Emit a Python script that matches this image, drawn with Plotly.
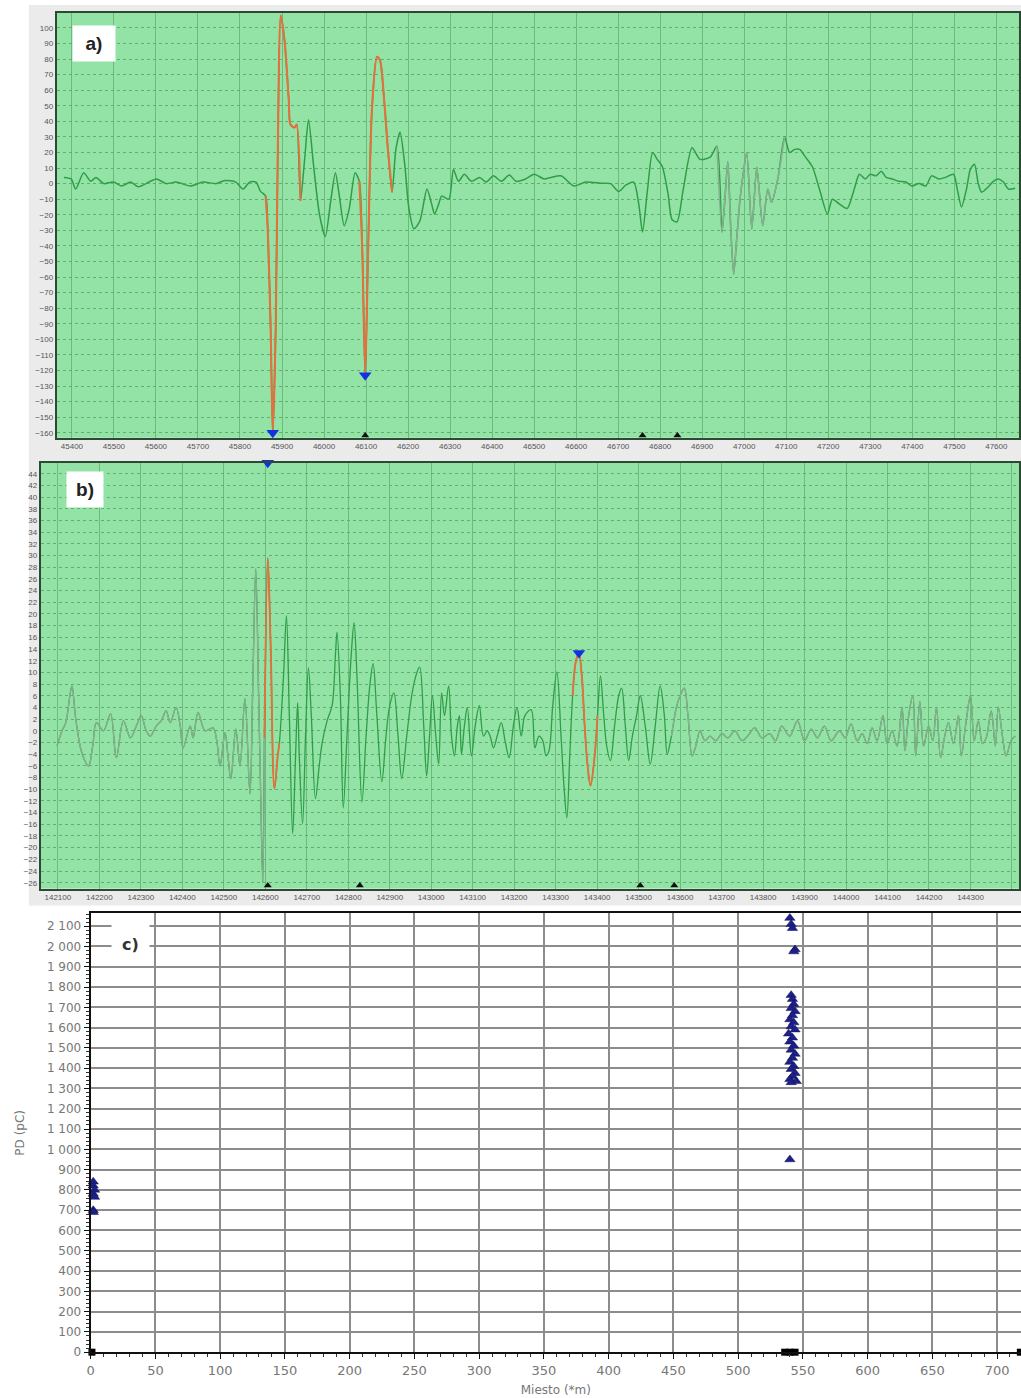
import plotly.graph_objects as go

W, H = 1021, 1398

# ---------------- Panel a) data ----------------
a_x = [45381, 45398, 45409, 45428, 45445, 45457, 45476, 45499, 45518, 45540,
       45558, 45587, 45601, 45625, 45648, 45682, 45712, 45743, 45764, 45790,
       45807, 45823, 45838, 45849, 45861, 45866, 45873, 45878, 45885, 45890,
       45897, 45906, 45916, 45920, 45930, 45935, 45944, 45954, 45963, 45975,
       45989, 46003, 46015, 46027, 46036, 46048, 46060, 46074, 46084, 46091,
       46098, 46105, 46114, 46126, 46133, 46143, 46152, 46162, 46171, 46181,
       46192, 46202, 46214, 46228, 46245, 46256, 46263, 46273, 46280, 46297,
       46308, 46320, 46334, 46351, 46370, 46386, 46403, 46422, 46441, 46457,
       46480, 46500, 46524, 46540, 46564, 46595, 46623, 46659, 46682, 46701,
       46718, 46737, 46749, 46758, 46770, 46782, 46793, 46805, 46819, 46828,
       46840, 46855, 46876, 46895, 46919, 46935, 46947, 46954, 46961, 46968,
       46975, 46982, 46990, 46999, 47006, 47018, 47030, 47044, 47056, 47065,
       47080, 47096, 47108, 47120, 47132, 47146, 47162, 47179, 47198, 47210,
       47226, 47245, 47262, 47274, 47288, 47300, 47314, 47326, 47338, 47352,
       47368, 47385, 47399, 47416, 47432, 47446, 47463, 47479, 47498, 47507,
       47517, 47529, 47538, 47548, 47557, 47565, 47581, 47593, 47605, 47617,
       47629, 47645]
a_y = [4, 3, -3.5, 7, 1.5, 4, 0, 1, -1.5, 1,
       -2, 1.5, 3, 0, 1, -1.5, 1, 0, 2, 1,
       -3.5, 1, 1, -5, -8, -29, -93, -161, -93, 22,
       108, 92, 54, 38, 36, 38, -11, 16, 41, 12,
       -19.5, -34, -13, 7, -7, -27, -16, 7, 1.5, -42,
       -123, -42, 47.6, 81.5, 79.5, 54, 22, -5.5, 22, 33,
       12.5, -16, -29, -24, -3.5, -13, -19.5, -13, -8, -10,
       9, 1.5, 6, 1.5, 4, 1, 5, 1.5, 5.5, 1.5,
       3, 6, 3, 4, 5, -1.5, 1, 0.3, 0, -5,
       -1, 1, -13, -31, -3.5, 20, 15.6, 11, -7, -23,
       -24.6, -3.5, 23, 15.6, 17, 24, -31, -10, 14, -29,
       -58, -36, -10, 9, 20, -29, 10.5, -27, -3.5, -12,
       3, 30, 20, 22, 22, 17, 11, -3.5, -19.5, -10,
       -13, -16, -3.5, 6, 3, 6, 5, 8, 4, 3,
       1.5, 1, -1.5, 0, -1.5, 5, 3, 4, 6, -3.5,
       -15, -3.5, 9, 12.5, 0, -5.5, -2, 1.5, 3, 1,
       -3.5, -3]
a_red_ranges = [(45861, 45944), (46084, 46162)]
a_faded_ranges = [(46935, 47096)]
a_blue_x = [45878, 46098]
a_blue_y = [-160, -123]
a_black_x = [46098, 46758, 46841]

# ---------------- Panel b) data ----------------
b_x = [142098, 142110, 142119, 142129, 142134, 142143, 142158, 142174, 142184, 142193,
       142210, 142227, 142241, 142258, 142275, 142289, 142301, 142313, 142323, 142337,
       142349, 142361, 142371, 142385, 142395, 142402, 142419, 142426, 142438, 142455,
       142474, 142483, 142491, 142503, 142510, 142517, 142529, 142539, 142551, 142563,
       142570, 142577, 142584, 142589, 142594, 142598,
       142606, 142613, 142622, 142630, 142634,
       142644, 142651, 142658, 142666, 142673, 142678, 142682, 142690, 142697, 142704,
       142711, 142721, 142730, 142737, 142749, 142761, 142769, 142773, 142781, 142788,
       142797, 142807, 142814, 142821, 142833, 142843, 142852, 142860, 142869, 142881,
       142891, 142900, 142910, 142920, 142929, 142941, 142953, 142963, 142972, 142982,
       142989, 142996, 143003, 143011, 143018, 143025, 143032, 143042, 143049, 143056,
       143063, 143068, 143073, 143080, 143087, 143097, 143106, 143116, 143126, 143135,
       143142, 143150, 143159, 143169, 143178, 143188, 143198, 143207, 143217, 143226,
       143241, 143250, 143260, 143269, 143277, 143284, 143293, 143303, 143313, 143320,
       143327, 143334, 143341,
       143349, 143356, 143363, 143370, 143377, 143384, 143394, 143401,
       143408, 143416, 143423, 143432, 143442, 143452, 143459, 143468, 143476, 143485,
       143495, 143504, 143516, 143528, 143540, 143552, 143562, 143569, 143579,
       143591, 143600, 143610, 143619, 143629, 143638, 143648, 143660, 143672, 143686,
       143701, 143715, 143732, 143749, 143763, 143780, 143797, 143816, 143830, 143845,
       143864, 143883, 143900, 143916, 143931, 143948, 143964, 143984, 143998, 144012,
       144027, 144039, 144051, 144063, 144075, 144089, 144099, 144111, 144123, 144135,
       144142, 144151, 144161, 144168, 144178, 144187, 144199, 144209, 144218, 144228,
       144238, 144247, 144259, 144271, 144278, 144288, 144300, 144309, 144319, 144329,
       144338, 144350, 144360, 144367, 144377, 144386, 144398, 144408]
b_y = [-2.6, 0.0, 1.4, 6.0, 7.7, 2.1, -3.8, -6.0, -2.6, 1.4,
       0.0, 2.9, -4.6, 1.7, -1.2, 0.8, 2.6, 0.0, -0.9, 0.8,
       1.7, 3.4, 1.4, 4.0, 0.8, -2.9, 0.8, -1.2, 3.1, 0.0,
       0.5, -1.7, -6.0, -0.3, -4.3, -8.2, 0.3, -6.0, 5.5, -10.8,
       8.2, 27.7, 6.0, -11.1, -26.0, -1.2,
       29.6, 14.5, -9.9, -4.3, -2.1,
       9.4, 19.7, 2.6, -17.6, -4.3, 4.8, -4.3, -15.9, -0.9, 10.8,
       2.6, -11.6, -6.0, -2.1, 1.7, 4.3, 12.8, 16.9, 6.0, -13.2,
       -0.9, 12.8, 18.5, 9.4, -12.2, -0.9, 7.7, 11.5, 2.6, -8.7,
       -0.9, 4.3, 6.5, -0.9, -8.2, -0.9, 6.0, 9.4, 10.9, 0.8,
       -7.7, -0.9, 6.0, -0.9, -5.7, 6.5, 2.6, 7.7, -0.9, -4.3,
       0.8, 2.6, -4.0, 0.8, 4.0, -4.3, 0.8, 4.3, -0.9, 0.0,
       -0.9, -2.9, -0.9, 1.4, -1.7, -4.6, 0.8, 4.0, -0.9, 2.6,
       3.6, -2.9, -0.9, -1.7, -4.3, -3.4, 4.3, 10.1, -0.9, -9.4,
       -14.9, -4.3, 6.0,
       12.0, 13.2, 9.4, 0.8, -6.0, -9.4, -4.3, 2.6,
       9.4, 2.6, -2.6, -5.1, 0.8, 6.0, 7.3, 0.8, -5.1, -0.9,
       2.6, 6.0, 0.8, -5.7, 0.8, 7.7, 2.6, -4.0, -0.9,
       4.0, 6.0, 7.3, 2.6, -4.3, -2.6, 0.0, -1.7, -0.9, -1.7,
       -0.5, -1.2, 0.0, -1.7, -0.9, 0.5, -1.2, -0.5, -1.7, 0.8,
       -0.9, 1.7, -1.7, 0.3, -1.2, 0.8, -1.7, 0.0, -1.2, 1.2,
       -1.7, -0.5, -2.2, 0.5, -1.7, 2.6, -2.2, 0.0, -2.6, 4.0,
       -3.4, 2.6, 6.0, -4.3, 5.0, -2.6, 0.8, -1.7, 4.0, -4.6,
       -0.9, 1.4, -2.2, 2.6, -4.3, 0.8, 6.0, -1.7, 1.7, -2.2,
       -1.2, 3.4, -2.6, 4.0, -0.9, -4.3, -1.7, -0.9]
b_red_ranges = [(142598, 142634), (143341, 143401)]
b_faded_ranges = [(142098, 142598), (143579, 144408)]
b_blue_x = [142606, 143356]
b_blue_y = [45.9, 13.3]
b_black_x = [142606, 142828, 143504, 143586]

# ---------------- Panel c) data ----------------
c_x = [540, 541, 542, 544, 543, 541, 542, 543, 541, 544,
       542, 540, 543, 541, 544, 539, 542, 540, 543, 541,
       544, 542, 540, 543, 541, 544, 542, 540, 545, 541,
       540, 2, 2, 3, 2, 3, 2, 2]
c_y = [2140, 2110, 2090, 1985, 1975, 1760, 1740, 1715, 1695, 1680,
       1660, 1640, 1625, 1605, 1590, 1570, 1550, 1530, 1510, 1490,
       1470, 1450, 1430, 1410, 1395, 1375, 1360, 1345, 1335, 1330,
       950, 840, 820, 800, 780, 765, 700, 690]
c_sq_x = [1, 536, 540, 544, 718]
c_sq_y = [0, 0, 0, 0, 0]

# ranges
A_XR = [45364, 47654]; A_YR = [-163.2, 109.6]
B_XR = [142059, 144417]; B_YR = [-27.0, 45.9]
C_XR = [0, 718.5]; C_YR = [0, 2163]

GREEN = '#2f9e46'
FADED = '#8cae93'
RED = '#e3703f'
BLUE = '#1530e0'


def pick(xs, ys, lo, hi):
    sx, sy = [], []
    for x, y in zip(xs, ys):
        if lo <= x <= hi:
            sx.append(x); sy.append(y)
    return sx, sy


fig = go.Figure()


def add_signal(xs, ys, red_ranges, faded_ranges, xa, ya, width, sm):
    fig.add_trace(go.Scatter(x=xs, y=ys, mode='lines', xaxis=xa, yaxis=ya,
                             line=dict(color=GREEN, width=width, shape='spline', smoothing=sm),
                             showlegend=False, hoverinfo='skip'))
    for lo, hi in faded_ranges:
        sx, sy = pick(xs, ys, lo, hi)
        fig.add_trace(go.Scatter(x=sx, y=sy, mode='lines', xaxis=xa, yaxis=ya,
                                 line=dict(color=FADED, width=width, shape='spline', smoothing=sm),
                                 showlegend=False, hoverinfo='skip'))
    for lo, hi in red_ranges:
        sx, sy = pick(xs, ys, lo, hi)
        fig.add_trace(go.Scatter(x=sx, y=sy, mode='lines', xaxis=xa, yaxis=ya,
                                 line=dict(color=RED, width=width + 0.6, shape='spline', smoothing=sm),
                                 showlegend=False, hoverinfo='skip'))


add_signal(a_x, a_y, a_red_ranges, a_faded_ranges, 'x', 'y', 1.5, 0.7)
add_signal(b_x, b_y, b_red_ranges, b_faded_ranges, 'x2', 'y2', 1.3, 1.0)

# markers panel a
fig.add_trace(go.Scatter(x=a_blue_x, y=a_blue_y, mode='markers', xaxis='x', yaxis='y',
                         marker=dict(symbol='triangle-down', size=11, color=BLUE),
                         cliponaxis=False, showlegend=False))
fig.add_trace(go.Scatter(x=a_black_x, y=[A_YR[0] + 1.5] * len(a_black_x), mode='markers',
                         xaxis='x', yaxis='y',
                         marker=dict(symbol='triangle-up', size=7, color='#111'),
                         cliponaxis=False, showlegend=False))
# markers panel b
fig.add_trace(go.Scatter(x=b_blue_x, y=b_blue_y, mode='markers', xaxis='x2', yaxis='y2',
                         marker=dict(symbol='triangle-down', size=11, color=BLUE),
                         cliponaxis=False, showlegend=False))
fig.add_trace(go.Scatter(x=b_black_x, y=[B_YR[0] + 0.5] * len(b_black_x), mode='markers',
                         xaxis='x2', yaxis='y2',
                         marker=dict(symbol='triangle-up', size=7, color='#111'),
                         cliponaxis=False, showlegend=False))
# panel c
fig.add_trace(go.Scatter(x=c_x, y=c_y, mode='markers', xaxis='x3', yaxis='y3',
                         marker=dict(symbol='triangle-up', size=9, color='#1d1f8a',
                                     line=dict(width=0.5, color='#10124f')),
                         cliponaxis=False, showlegend=False))
fig.add_trace(go.Scatter(x=c_sq_x, y=c_sq_y, mode='markers', xaxis='x3', yaxis='y3',
                         marker=dict(symbol='square', size=7, color='#000'),
                         cliponaxis=False, showlegend=False))

A_DX = [53 / W, 1019 / W]; A_DY = [1 - 440 / H, 1 - 13 / H]
B_DX = [37 / W, 1019 / W]; B_DY = [1 - 893 / H, 1 - 465 / H]
C_DX = [87 / W, 1.0]; C_DY = [1 - 1359 / H, 1 - 918 / H]

small_font = dict(family='Liberation Sans, Arial, sans-serif', size=8, color='#555')
gcol = '#5fb06f'

common_line = dict(zeroline=False, showline=True, linecolor='#2c4a33', linewidth=2,
                   mirror=True, ticks='', tickfont=small_font, tickformat='d')
x_green = dict(showgrid=True, gridcolor='#6dbb7c', gridwidth=1, **common_line)
y_green = dict(showgrid=True, gridcolor=gcol, gridwidth=1, griddash='dot', **common_line)

c_font = dict(family='DejaVu Sans, sans-serif', size=12, color='#777')

fig.update_layout(
    width=W, height=H, autosize=False,
    margin=dict(l=0, r=0, t=0, b=0),
    paper_bgcolor='white', plot_bgcolor='rgba(0,0,0,0)',
    separators=', ',
    xaxis=dict(domain=A_DX, anchor='y', range=A_XR, tick0=45400, dtick=100, **x_green),
    yaxis=dict(domain=A_DY, anchor='x', range=A_YR, tick0=0, dtick=10, **y_green),
    xaxis2=dict(domain=B_DX, anchor='y2', range=B_XR, tick0=142100, dtick=100, **x_green),
    yaxis2=dict(domain=B_DY, anchor='x2', range=B_YR, tick0=0, dtick=2, **y_green),
    xaxis3=dict(domain=C_DX, anchor='y3', range=C_XR, tick0=0, dtick=50,
                showgrid=True, gridcolor='#8c8c8c', gridwidth=2, zeroline=False,
                showline=True, linecolor='#111', linewidth=2, mirror=True,
                ticks='outside', ticklen=5, tickcolor='#111', tickfont=dict(c_font, size=13),
                minor=dict(dtick=10, ticks='outside', ticklen=3, tickcolor='#333', showgrid=False),
                title=dict(text='Miesto (*m)', font=dict(c_font, size=12), standoff=9)),
    yaxis3=dict(domain=C_DY, anchor='x3', range=C_YR, tick0=0, dtick=100, tickformat=',d',
                showgrid=True, gridcolor='#8c8c8c', gridwidth=2, zeroline=False,
                showline=True, linecolor='#111', linewidth=2,
                ticks='outside', ticklen=5, tickcolor='#111', tickfont=c_font,
                minor=dict(dtick=20, ticks='outside', ticklen=3, tickcolor='#333', showgrid=False),
                title=dict(text='PD (pC)', font=dict(c_font, size=12), standoff=20)),
    shapes=[
        dict(type='rect', xref='paper', yref='paper', x0=25 / W, x1=1, y0=1 - 910 / H, y1=1 - 5 / H,
             fillcolor='#ebebeb', line=dict(width=0), layer='below'),
        dict(type='rect', xref='paper', yref='paper', x0=A_DX[0], x1=A_DX[1], y0=A_DY[0], y1=A_DY[1],
             fillcolor='#93e3a6', line=dict(width=0), layer='below'),
        dict(type='rect', xref='paper', yref='paper', x0=B_DX[0], x1=B_DX[1], y0=B_DY[0], y1=B_DY[1],
             fillcolor='#93e3a6', line=dict(width=0), layer='below'),
    ],
    annotations=[
        dict(text='<b>a)</b>', xref='paper', yref='paper', x=68 / W, y=1 - 25 / H,
             xanchor='left', yanchor='top', showarrow=False, bgcolor='white', width=40, height=33,
             font=dict(family='Liberation Sans, Arial, sans-serif', size=19, color='#222')),
        dict(text='<b>b)</b>', xref='paper', yref='paper', x=62 / W, y=1 - 473 / H,
             xanchor='left', yanchor='top', showarrow=False, bgcolor='white', width=34, height=33,
             font=dict(family='Liberation Sans, Arial, sans-serif', size=19, color='#222')),
        dict(text='<b>c)</b>', xref='paper', yref='paper', x=107 / W, y=1 - 928 / H,
             xanchor='left', yanchor='top', showarrow=False, bgcolor='white', width=35, height=38,
             font=dict(family='DejaVu Sans, sans-serif', size=16, color='#333')),
    ],
)

fig.write_html('out.html')
